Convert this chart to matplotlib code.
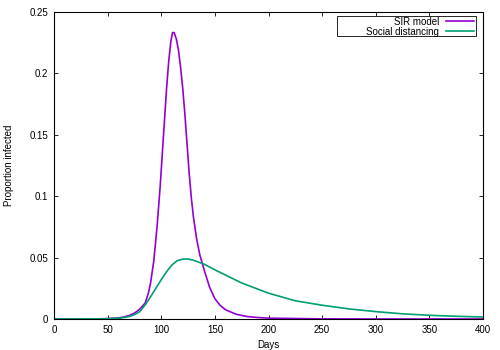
import numpy as np
import matplotlib
matplotlib.use("Agg")
import matplotlib.pyplot as plt
from matplotlib.patches import Rectangle
from matplotlib.ticker import FormatStrFormatter

# values
sir_days = [0, 40, 50, 60, 65, 70, 75, 80, 85, 88, 90, 93, 96, 99, 102, 105, 107, 109,
            110.5, 112, 114, 116, 118, 120, 122, 124, 126, 128, 130, 133, 136, 140,
            145, 150, 155, 160, 170, 180, 190, 200, 250, 300, 400]
sir_prop = [0, 0.0001, 0.0003, 0.0009, 0.0016, 0.0028, 0.0048, 0.0080, 0.0130, 0.0210,
            0.0290, 0.0470, 0.0740, 0.1080, 0.1480, 0.1880, 0.2100, 0.2260,
            0.2330, 0.2330, 0.2280, 0.2190, 0.2050, 0.1880, 0.1670, 0.1430, 0.1190,
            0.0990, 0.0830, 0.0650, 0.0520, 0.0400, 0.0260, 0.0165, 0.0110, 0.0075,
            0.0038, 0.0020, 0.0012, 0.0007, 0.0001, 0.0, 0.0]

sd_days = [0, 40, 50, 60, 65, 70, 75, 80, 85, 90, 95, 100, 105, 110, 115, 120, 125,
           130, 135, 140, 150, 160, 175, 200, 225, 250, 275, 300, 325, 350, 375, 400]
sd_prop = [0, 0.0001, 0.0002, 0.0006, 0.0012, 0.0020, 0.0035, 0.0060, 0.0115, 0.0180,
           0.0250, 0.0320, 0.0385, 0.0440, 0.0475, 0.0487, 0.0488, 0.0478, 0.0462,
           0.0446, 0.0400, 0.0357, 0.0293, 0.0210, 0.0148, 0.0112, 0.0082, 0.0060,
           0.0042, 0.0030, 0.0022, 0.0016]

plt.rcParams['font.family'] = ['Liberation Sans', 'DejaVu Sans']
plt.rcParams['font.size'] = 7

fig = plt.figure(figsize=(5, 3.5), dpi=100)
ax = fig.add_axes([0.108, 0.0886, 0.858, 0.878])

ax.plot(sir_days, sir_prop, color='#9400D3', lw=1.2, label='SIR model')
ax.plot(sd_days, sd_prop, color='#009E73', lw=1.2, label='Social distancing')

ax.set_xlim(0, 400)
ax.set_ylim(0, 0.25)
ax.set_xticks(np.arange(0, 401, 50))
ax.set_yticks(np.arange(0, 0.251, 0.05))
ax.yaxis.set_major_formatter(FormatStrFormatter('%g'))
ax.tick_params(direction='in', top=True, right=True, length=3, width=0.6,
               labelsize=7, pad=4)
for s in ax.spines.values():
    s.set_linewidth(0.8)

ax.set_xlabel('Days', fontsize=7, labelpad=4)
ax.set_ylabel('Proportion infected', fontsize=7, labelpad=11)

# gnuplot-style key box, wider than its text
ax.add_patch(Rectangle((0.660, 0.921), 0.3244, 0.065, transform=ax.transAxes,
                       facecolor='white', edgecolor='black', lw=0.6, zorder=4))
leg = ax.legend(loc='upper right', bbox_to_anchor=(0.9844, 0.99), markerfirst=False,
                frameon=False, fontsize=7, handlelength=2.9, handletextpad=0.7,
                borderpad=0.2, labelspacing=0.0, borderaxespad=0)
leg.set_zorder(5)
for t in leg.get_texts():
    t.set_ha('right')

fig.savefig('out.png', dpi=100)
